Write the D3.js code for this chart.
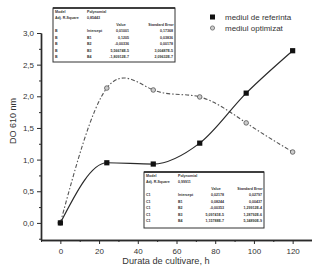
<!DOCTYPE html>
<html><head><meta charset="utf-8">
<script src="https://cdn.jsdelivr.net/npm/d3@7"></script>
<style>html,body{margin:0;padding:0;background:#fff;}svg{display:block;font-family:"Liberation Sans",Arial,sans-serif;}</style>
</head><body>
<script>
const hours = [0, 24, 48, 72, 96, 120];
const referinta = [0, 0.95, 0.93, 1.26, 2.05, 2.72];
const optimizat = [0, 2.13, 2.10, 1.99, 1.58, 1.12];
const seriesNames = ["mediul de referinta", "mediul optimizat"];
const xTicks = [0, 20, 40, 60, 80, 100, 120];
const yTicks = [0, 0.5, 1.0, 1.5, 2.0, 2.5, 3.0];
const xLabel = "Durata de cultivare, h";
const yLabel = "DO 610 nm";
const table1Head = [["Model", "Polynomial"], ["Adj. R-Square", "0,85443"]];
const table1Rows = [
  ["B", "Intercept", "0,01001", "0,17368"],
  ["B", "B1", "0,1205", "0,03836"],
  ["B", "B2", "-0,00336", "0,00178"],
  ["B", "B3", "5,56674E-5", "3,00487E-5"],
  ["B", "B4", "-1,80912E-7", "2,09632E-7"]];
const table2Head = [["Model", "Polynomial"], ["Adj. R-Square", "0,99911"]];
const table2Rows = [
  ["C1", "Intercept", "0,02178", "0,02797"],
  ["C1", "B1", "0,08244", "0,00437"],
  ["C1", "B2", "-0,00353", "1,29912E-4"],
  ["C1", "B3", "5,09741E-5", "1,28792E-6"],
  ["C1", "B4", "1,15788E-7", "5,34890E-9"]];

const W = 312, H = 268;
const svg = d3.select("body").append("svg").attr("width", W).attr("height", H);
const x = d3.scaleLinear().domain([-10, 130]).range([41, 312]);
const y = d3.scaleLinear().domain([-0.27, 3.0]).range([240, 33]);
const ink = "#2a2a2a";
const fmt = v => d3.format(".1f")(v).replace(".", ",");

// axes
svg.append("g").attr("transform", "translate(0,240)")
  .call(d3.axisBottom(x).tickValues(xTicks).tickSize(4).tickPadding(4).tickSizeOuter(0));
svg.append("g").attr("transform", "translate(0,240)")
  .call(d3.axisBottom(x).tickValues(d3.range(-10, 131, 20)).tickSize(2).tickFormat("").tickSizeOuter(0));
svg.append("g").attr("transform", "translate(41,0)")
  .call(d3.axisLeft(y).tickValues(yTicks).tickFormat(fmt).tickSize(4).tickPadding(3).tickSizeOuter(0));
svg.append("g").attr("transform", "translate(41,0)")
  .call(d3.axisLeft(y).tickValues(d3.range(-0.25, 3.0, 0.5)).tickSize(2).tickFormat("").tickSizeOuter(0));
svg.selectAll(".domain").attr("stroke", ink).attr("stroke-width", 1.4);
svg.selectAll(".tick line").attr("stroke", ink).attr("stroke-width", 1);
svg.selectAll(".tick text").attr("fill", "#333").attr("font-size", 8).attr("font-family", "Liberation Sans, Arial, sans-serif");

svg.append("text").attr("x", 166).attr("y", 264).attr("text-anchor", "middle")
  .attr("font-size", 9.2).attr("fill", "#333").text(xLabel);
svg.append("text").attr("transform", "translate(16,121) rotate(-90)").attr("text-anchor", "middle")
  .attr("font-size", 9).attr("fill", "#333").text(yLabel);

// tables
function drawTable(x0, y0, w, h, head, rows, cols) {
  const g = svg.append("g");
  g.append("rect").attr("x", x0).attr("y", y0).attr("width", w).attr("height", h)
    .attr("fill", "#fff").attr("stroke", "#333").attr("stroke-width", 1);
  g.append("line").attr("x1", x0).attr("x2", x0 + w).attr("y1", y0).attr("y2", y0)
    .attr("stroke", "#222").attr("stroke-width", 1.6);
  const fs = 3.6;
  head.forEach((r, i) => {
    const yy = y0 + 4.5 + i * 6.2;
    g.append("text").attr("x", x0 + 2).attr("y", yy).attr("font-size", fs).attr("font-weight", "bold").attr("fill", "#333").text(r[0]);
    g.append("text").attr("x", x0 + cols[1]).attr("y", yy).attr("font-size", fs).attr("font-weight", "bold").attr("fill", "#333").text(r[1]);
  });
  const hy = y0 + 17.5;
  g.append("text").attr("x", x0 + cols[2] - 8).attr("y", hy).attr("font-size", fs).attr("font-weight", "bold").attr("text-anchor", "middle").attr("fill", "#333").text("Value");
  g.append("text").attr("x", x0 + cols[3] - 12).attr("y", hy).attr("font-size", fs).attr("font-weight", "bold").attr("text-anchor", "middle").attr("fill", "#333").text("Standard Error");
  rows.forEach((r, i) => {
    const yy = y0 + 24 + i * 6.6;
    g.append("text").attr("x", x0 + 2).attr("y", yy).attr("font-size", fs).attr("font-weight", "bold").attr("fill", "#333").text(r[0]);
    g.append("text").attr("x", x0 + cols[1]).attr("y", yy).attr("font-size", fs).attr("font-weight", "bold").attr("fill", "#333").text(r[1]);
    g.append("text").attr("x", x0 + cols[2]).attr("y", yy).attr("font-size", fs).attr("font-weight", "bold").attr("text-anchor", "end").attr("fill", "#333").text(r[2]);
    g.append("text").attr("x", x0 + cols[3]).attr("y", yy).attr("font-size", fs).attr("font-weight", "bold").attr("text-anchor", "end").attr("fill", "#333").text(r[3]);
  });
}
drawTable(53, 8, 122, 54, table1Head, table1Rows, [0, 34, 76, 120]);
drawTable(144, 172, 120, 56, table2Head, table2Rows, [0, 34, 80, 118]);

// curves
const refPts = hours.map((h, i) => [h, referinta[i]]);
const optPts = hours.map((h, i) => [h, optimizat[i]]);
const optLine = d3.line().x(d => x(d[0])).y(d => y(d[1])).curve(d3.curveNatural);
const refLine = d3.line().x(d => x(d[0])).y(d => y(d[1])).curve(d3.curveMonotoneX);
svg.append("path").attr("d", optLine(optPts)).attr("fill", "none").attr("stroke", "#555")
  .attr("stroke-width", 1.1).attr("stroke-dasharray", "4,2,1.5,2");
svg.append("path").attr("d", refLine(refPts)).attr("fill", "none").attr("stroke", ink).attr("stroke-width", 1.2);

// markers
svg.selectAll(".opt").data(optPts).join("circle").attr("class", "opt")
  .attr("cx", d => x(d[0])).attr("cy", d => y(d[1])).attr("r", 2.3)
  .attr("fill", "#ccc").attr("stroke", "#555").attr("stroke-width", 0.8);
svg.selectAll(".ref").data(refPts).join("rect").attr("class", "ref")
  .attr("x", d => x(d[0]) - 2.6).attr("y", d => y(d[1]) - 2.6).attr("width", 5.2).attr("height", 5.2)
  .attr("fill", "#111");

// legend
const lg = svg.append("g");
lg.append("rect").attr("x", 210).attr("y", 14.5).attr("width", 5).attr("height", 5).attr("fill", "#111");
lg.append("circle").attr("cx", 212.5).attr("cy", 28).attr("r", 2.1).attr("fill", "#ccc").attr("stroke", "#666").attr("stroke-width", 0.8);
lg.append("text").attr("x", 225).attr("y", 20).attr("font-size", 8).attr("fill", "#333").text(seriesNames[0]);
lg.append("text").attr("x", 225).attr("y", 31).attr("font-size", 8).attr("fill", "#333").text(seriesNames[1]);
</script>
</body></html>
